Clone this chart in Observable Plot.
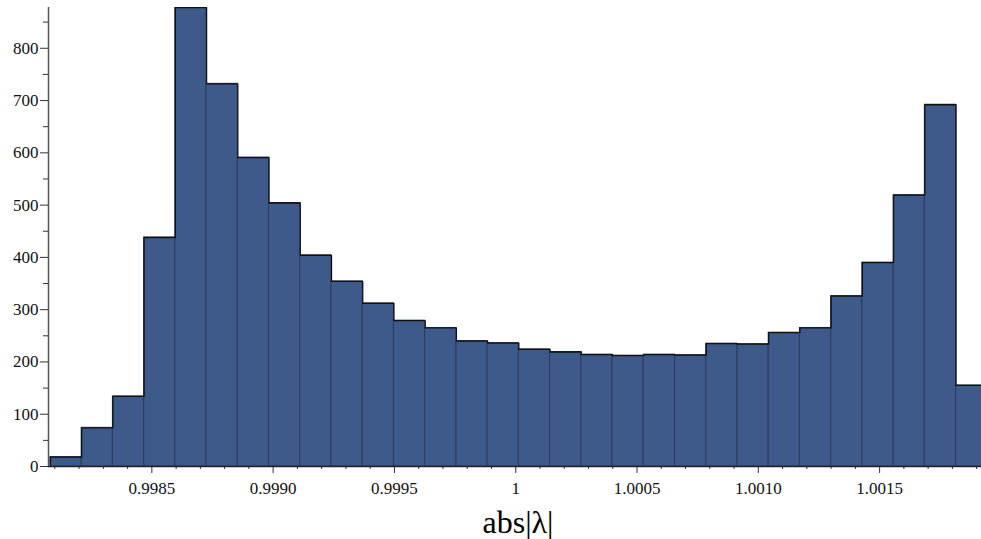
<!DOCTYPE html>
<html>
<head>
<meta charset="utf-8">
<script src="https://cdn.jsdelivr.net/npm/d3@7"></script>
<script src="https://cdn.jsdelivr.net/npm/@observablehq/plot@0.6"></script>
<style>
  html, body { margin: 0; padding: 0; background: #fff; }
  svg { display: block; }
  #chart svg, #chart svg text { font-family: "Liberation Serif", "Times New Roman", Times, serif !important; }
</style>
</head>
<body>
<div id="chart"></div>
<script>
// Histogram of abs|λ| — counts
const binStart = 0.998082;
const binWidth = 0.00012873;
const counts = [18, 74, 134, 438, 878, 732, 591, 504, 404, 354, 312, 279, 265, 240, 236,
                224, 219, 214, 212, 214, 213, 235, 234, 256, 265, 326, 390, 519, 692, 155];
const xDomain = [0.998074, 1.00192];
const yDomain = [0, 878];
const xTicks = [0.9985, 0.9990, 0.9995, 1, 1.0005, 1.0010, 1.0015];
const xTickLabels = ["0.9985", "0.9990", "0.9995", "1", "1.0005", "1.0010", "1.0015"];
const xMinorTicks = [0.9981, 0.9982, 0.9983, 0.9984, 0.9986, 0.9987, 0.9988, 0.9989,
                     0.9991, 0.9992, 0.9993, 0.9994, 0.9996, 0.9997, 0.9998, 0.9999,
                     1.0001, 1.0002, 1.0003, 1.0004, 1.0006, 1.0007, 1.0008, 1.0009,
                     1.0011, 1.0012, 1.0013, 1.0014, 1.0016, 1.0017, 1.0018, 1.0019];
const yTicks = [0, 100, 200, 300, 400, 500, 600, 700, 800];
const yMinorTicks = [50, 150, 250, 350, 450, 550, 650, 750, 850];
const xLabel = "abs|λ|";

const bins = counts.map((c, i) => ({
  x1: binStart + i * binWidth,
  x2: binStart + (i + 1) * binWidth,
  count: c
}));
// outline of the histogram (step path through the bin tops)
const outline = [{x: bins[0].x1, y: 0}]
  .concat(bins.map(b => ({x: b.x1, y: b.count})))
  .concat([{x: bins[bins.length - 1].x2, y: bins[bins.length - 1].count}]);
const labelMap = new Map(xTicks.map((t, i) => [t, xTickLabels[i]]));

const serif = "Liberation Serif";
const axisColor = "#333";

const plot = Plot.plot({
  width: 981,
  height: 539,
  marginLeft: 48,
  marginRight: 0,
  marginTop: 7,
  marginBottom: 73,
  style: { fontSize: "17px", background: "#fff", color: "#111" },
  x: { domain: xDomain },
  y: { domain: yDomain },
  marks: [
    Plot.rectY(bins, {
      x1: "x1", x2: "x2", y1: 0, y2: "count",
      fill: "#3d5a8b", stroke: "#2a3c5e", strokeWidth: 1, clip: true
    }),
    Plot.line(outline, {
      x: "x", y: "y", curve: "step-after",
      stroke: "#111", strokeWidth: 1.3, clip: true
    }),
    Plot.axisX(xMinorTicks, { tickSize: 3, tickFormat: () => "", stroke: axisColor, label: null }),
    Plot.axisX(xTicks, {
      tickSize: 7, tickPadding: 8, stroke: axisColor, label: null,
      tickFormat: d => labelMap.get(d), fontSize: 17, fill: "#111"
    }),
    Plot.axisY(yMinorTicks, { tickSize: 5, tickFormat: () => "", stroke: axisColor, label: null }),
    Plot.axisY(yTicks, {
      tickSize: 8, tickPadding: 2, stroke: axisColor, label: null,
      tickFormat: d => String(d), fontSize: 17, fill: "#111"
    }),
    Plot.ruleY([yDomain[0]], { stroke: "#222", strokeWidth: 1.5 }),
    Plot.ruleX([xDomain[0]], { stroke: "#555", strokeWidth: 1.5 }),
    Plot.text([xLabel], {
      frameAnchor: "bottom", lineAnchor: "bottom", dy: 66, dx: 3,
      fontSize: 32, fontFamily: serif, fill: "#000"
    })
  ]
});

document.getElementById("chart").appendChild(plot);
</script>
</body>
</html>
